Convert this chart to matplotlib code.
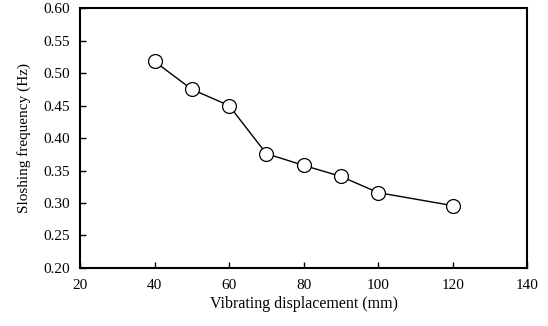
import matplotlib
matplotlib.use("Agg")
import matplotlib.pyplot as plt

# data
displacement = [40, 50, 60, 70, 80, 90, 100, 120]
frequency = [0.518, 0.475, 0.450, 0.376, 0.358, 0.341, 0.316, 0.296]

x_ticks = [20, 40, 60, 80, 100, 120, 140]
y_ticks = [0.20, 0.25, 0.30, 0.35, 0.40, 0.45, 0.50, 0.55, 0.60]

plt.rcParams['font.family'] = ['Liberation Serif', 'DejaVu Serif']

fig = plt.figure(figsize=(5.48, 3.26), dpi=100)
ax = fig.add_axes([0.146, 0.178, 0.816, 0.797])

ax.plot(displacement, frequency, color='black', linewidth=1.0,
        marker='o', markersize=10, markerfacecolor='white',
        markeredgecolor='black', markeredgewidth=0.9)

ax.set_xlim(20, 140)
ax.set_ylim(0.20, 0.60)
ax.set_xticks(x_ticks)
ax.set_yticks(y_ticks)
ax.set_yticklabels([f"{v:.2f}" for v in y_ticks])
ax.tick_params(direction='in', length=4, width=1.0, labelsize=11,
               top=False, right=False)
ax.tick_params(axis='x', pad=8)
ax.tick_params(axis='y', pad=7)
for s in ax.spines.values():
    s.set_linewidth(1.5)

ax.set_xlabel("Vibrating displacement (mm)", fontsize=11.5, labelpad=3)
ax.set_ylabel("Sloshing frequency (Hz)", fontsize=11, labelpad=9)

fig.savefig("out.png", dpi=100)
